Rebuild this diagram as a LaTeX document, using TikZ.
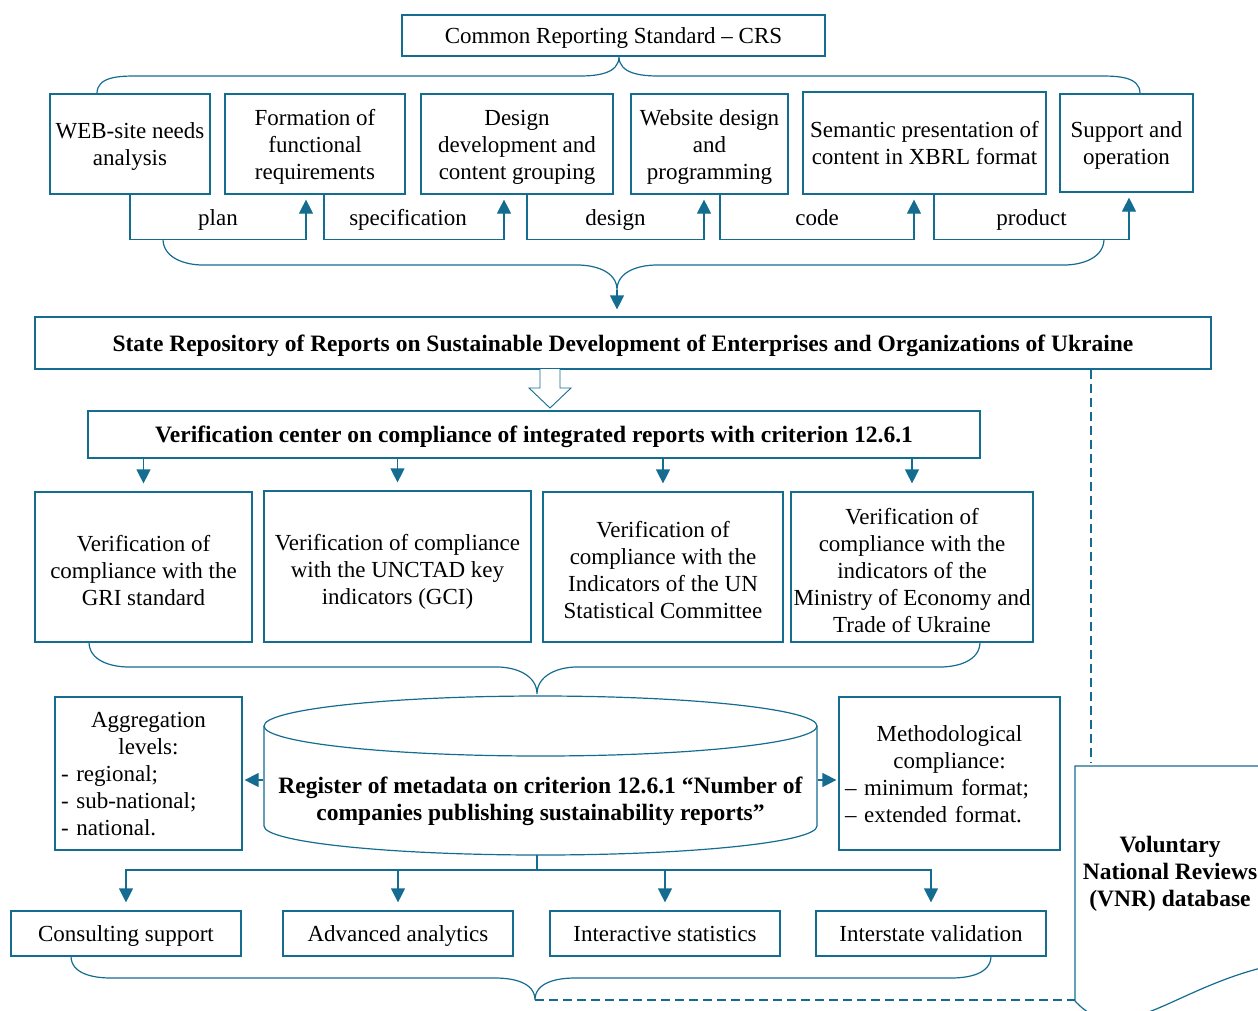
\documentclass[tikz,border=0pt]{standalone}
\usepackage{fontspec}
\setmainfont{Liberation Serif}
\usetikzlibrary{arrows.meta}
\definecolor{lineblue}{RGB}{20,108,144}
\newcommand{\boxstrut}{\rule[-5pt]{0pt}{26.5pt}}

\begin{document}
\begin{tikzpicture}[
    x=1pt, y=1pt,
    % Define styles
    box/.style={
        rectangle,
        draw=lineblue,
        line width=1.2pt,
        align=flush center,
        inner xsep=0pt,
        inner ysep=2pt,
        minimum width=#1,
        text width=#1,
        font=\fontsize{23}{27}\selectfont,
        execute at begin node={\boxstrut},
        execute at end node={\boxstrut}
    },
    verbox/.style={
        box=#1,
        minimum height=150pt,
        execute at begin node={\rule{0pt}{27.5pt}}
    },
    boldbox/.style={
        box=#1,
        font=\fontsize{23.5}{27}\selectfont\bfseries
    },
    listbox/.style={
        rectangle,
        draw=lineblue,
        line width=1.2pt,
        align=left,
        inner xsep=6pt,
        minimum width=#1,
        text width=#1-12pt,
        font=\fontsize{23}{27}\selectfont,
        execute at begin node={\boxstrut},
        execute at end node={\boxstrut}
    },
    line/.style={
        draw=lineblue,
        line width=1.2pt
    },
    arrow/.style={
        line,
        -{Triangle[length=14pt,width=14pt]},
        shorten >=6pt
    },
    dashline/.style={
        line,
        dash pattern=on 9pt off 5pt
    },
    steplabel/.style={
        anchor=base,
        yshift=14pt,
        font=\fontsize{23}{27}\selectfont
    }
]

\useasboundingbox (0,0) rectangle (1258,-1010);
\clip (0,0) rectangle (1258,-1010);

% Variables
\def\cylx{540.5}
\def\cyltop{-726}
\def\cylbot{-826}
\def\cylrx{276.5}
\def\cylry{30}

% Standard on top
\node[box=423pt, minimum height=41pt] (crs) at (613.5,-35.5) {Common Reporting Standard -- CRS};

% Development stages
\node[box=160pt, minimum height=100pt] (web) at (130,-144) {WEB-site needs\\analysis};
\node[box=180pt, minimum height=100pt] (form) at (315,-144) {Formation of\\functional\\requirements};
\node[box=192pt, minimum height=100pt] (desg) at (517,-144) {Design\\development and\\content grouping};
\node[box=157pt, minimum height=100pt] (prog) at (709.5,-144) {Website design\\and\\programming};
\node[box=243pt, minimum height=102pt] (xbrl) at (924.5,-143) {Semantic presentation of\\content in XBRL format};
\node[box=133pt, minimum height=98pt] (supp) at (1126.5,-143) {Support and\\operation};

% Brace from the standard
\draw[line] ([xshift=-33pt]web.north) to[out=90,in=180] (137,-76) -- (579,-76)
    to[out=0,in=-90] ([xshift=5.5pt]crs.south) to[out=-90,in=180] (659,-76) -- (1100,-76)
    to[out=0,in=90] ([xshift=13.5pt]supp.north);

% Steps between stages
\draw[arrow, shorten >=5pt] (web.south) -- ++(0,-45) -| node[steplabel, pos=0.25] {plan} ([xshift=-9pt]form.south);
\draw[arrow, shorten >=5pt] ([xshift=9pt]form.south) -- ++(0,-45) -| node[steplabel, pos=0.25, xshift=-6pt] {specification} ([xshift=-13pt]desg.south);
\draw[arrow, shorten >=5pt] ([xshift=10pt]desg.south) -- ++(0,-45) -| node[steplabel, pos=0.25] {design} ([xshift=-5.5pt]prog.south);
\draw[arrow, shorten >=5pt] ([xshift=10.5pt]prog.south) -- ++(0,-45) -| node[steplabel, pos=0.25] {code} ([xshift=-10.5pt]xbrl.south);
\draw[arrow, shorten >=5pt] ([xshift=9.5pt]xbrl.south) -- ++(0,-45) -| node[steplabel, pos=0.25] {product} ([xshift=2.5pt]supp.south);

% Repository
\node[boldbox=1176pt, minimum height=52pt] (repo) at (623,-343) {State Repository of Reports on Sustainable Development of Enterprises and Organizations of Ukraine};

\draw[line] (163,-239) to[out=-90,in=180] (203,-265) -- (577,-265)
    to[out=0,in=90] (617,-290) coordinate (cuspB) to[out=90,in=180] (657,-265) -- (1064,-265)
    to[out=0,in=-90] (1104,-239);
\draw[arrow, shorten >=7pt] (cuspB) -- (cuspB |- repo.north);

% Hollow arrow
\draw[lineblue, line width=0.9pt, fill=white] (540,-369) -- (540,-388) -- (529,-388) -- (550,-408)
    -- (571,-388) -- (560,-388) -- (560,-369);

% Verification
\node[boldbox=892pt, minimum height=47pt] (vcenter) at (534,-434.5) {Verification center on compliance of integrated reports with criterion 12.6.1};

\node[verbox=217pt] (gri) at (143.5,-567) {Verification of\\compliance with the\\GRI standard};
\node[verbox=267pt, minimum height=151pt] (unctad) at (397.5,-566.5) {Verification of compliance\\with the UNCTAD key\\indicators (GCI)};
\node[verbox=240pt] (unstat) at (663,-567) {Verification of\\compliance with the\\Indicators of the UN\\Statistical Committee};
\node[verbox=242pt] (minec) at (912,-567) {Verification of\\compliance with the\\indicators of the\\Ministry of Economy and\\Trade of Ukraine};

\draw[arrow, shorten >=8pt] (vcenter.south -| gri.north) -- (gri.north);
\draw[arrow, shorten >=8pt] (vcenter.south -| unctad.north) -- (unctad.north);
\draw[arrow, shorten >=8pt] (vcenter.south -| unstat.north) -- (unstat.north);
\draw[arrow, shorten >=8pt] (vcenter.south -| minec.north) -- (minec.north);

\draw[line] (89,-642) to[out=-90,in=180] (129,-667) -- (497,-667)
    to[out=0,in=90] (537,-694) to[out=90,in=180] (577,-667) -- (940,-667)
    to[out=0,in=-90] (980,-642);

% Register (cylinder)
\draw[line] (\cylx,\cyltop) ellipse [x radius=\cylrx, y radius=\cylry];
\draw[line] (\cylx-\cylrx,\cyltop) -- (\cylx-\cylrx,\cylbot)
    arc[start angle=180, end angle=360, x radius=\cylrx, y radius=29] -- (\cylx+\cylrx,\cyltop);
\node[boldbox=553pt, draw=none] (reg) at (\cylx,-799) {Register of metadata on criterion 12.6.1 “Number of\\companies publishing sustainability reports”};
\coordinate (regbot) at (537,-855);

\node[listbox=187pt, minimum height=153pt] (aggr) at (148.5,-773.5)
    {{\centering Aggregation\\levels:\par}- regional;\\- sub-national;\\- national.};
\node[listbox=221pt, minimum height=153pt] (meth) at (949.5,-773.5)
    {{\centering Methodological\\compliance:\par}-- minimum format;\\-- extended format.};

\draw[arrow, shorten >=2pt] ([yshift=19pt]reg.west) -- ([yshift=19pt]reg.west -| aggr.east);
\draw[arrow, shorten >=2pt] ([yshift=19pt]reg.east) -- ([yshift=19pt]reg.east -| meth.west);

% Services
\node[box=230pt, minimum height=45pt] (consult) at (126,-933.5) {Consulting support};
\node[box=230pt, minimum height=45pt] (analyt) at (398,-933.5) {Advanced analytics};
\node[box=230pt, minimum height=45pt] (stats) at (665,-933.5) {Interactive statistics};
\node[box=230pt, minimum height=45pt] (valid) at (931,-933.5) {Interstate validation};

\draw[line] (regbot) -- ++(0,-15) coordinate (hub);
\draw[arrow, shorten >=8pt] (hub) -| (consult.north);
\draw[arrow, shorten >=8pt] (hub) -| (analyt.north);
\draw[arrow, shorten >=8pt] (hub) -| (stats.north);
\draw[arrow, shorten >=8pt] (hub) -| (valid.north);

\draw[line] (71,-956) to[out=-90,in=180] (111,-978) -- (495,-978)
    to[out=0,in=90] (535,-1000) coordinate (cuspD) to[out=90,in=180] (575,-978) -- (951,-978)
    to[out=0,in=-90] (991,-956);

% VNR database
\node[boldbox=190pt, draw=none] (vnr) at (1170,-871) {Voluntary\\National Reviews\\(VNR) database};
\draw[line] (1075,-1001) -- (1075,-766) -- (1265,-766) -- (1265,-967)
    .. controls (1170,-990) and (1120,-1050) .. (1075,-1001);
\coordinate (vnrtop) at (1091,-763);
\coordinate (vnrleft) at (1075,-1000);

\draw[dashline] (vnrtop |- repo.south) -- (vnrtop);
\draw[dashline] (cuspD) -- (vnrleft);

\end{tikzpicture}
\end{document}
